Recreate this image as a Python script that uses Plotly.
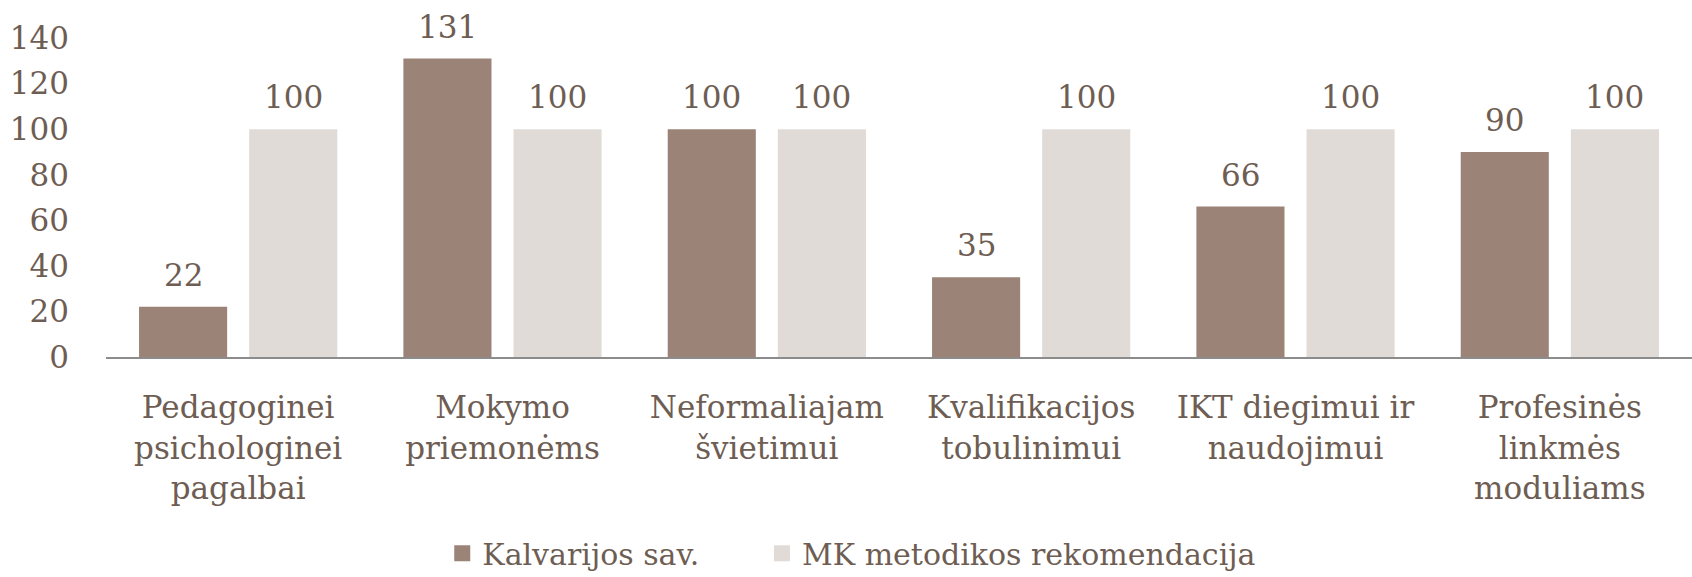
import plotly.graph_objects as go

categories = [
    "Pedagoginei<br>psichologinei<br>pagalbai",
    "Mokymo<br>priemonėms",
    "Neformaliajam<br>švietimui",
    "Kvalifikacijos<br>tobulinimui",
    "IKT diegimui ir<br>naudojimui",
    "Profesinės<br>linkmės<br>moduliams",
]
series_names = ["Kalvarijos sav.", "MK metodikos rekomendacija"]
kalvarijos = [22, 131, 100, 35, 66, 90]
mk = [100, 100, 100, 100, 100, 100]
y_ticks = [0, 20, 40, 60, 80, 100, 120, 140]

TEXT = "#6e5d53"
FONT = "DejaVu Serif"
FS = 31
COLORS = ["#9b8477", "#e0dbd7"]
LEGENDS = ["legend", "legend2"]

fig = go.Figure()
for name, vals, col in zip(series_names, [kalvarijos, mk], COLORS):
    fig.add_trace(go.Bar(
        x=categories, y=vals, name=name, showlegend=False,
        marker=dict(color=col, line=dict(width=0)),
        hoverinfo="x+y",
    ))
# legend entries with larger square swatches
for name, col, lg in zip(series_names, COLORS, LEGENDS):
    fig.add_trace(go.Scatter(
        x=[None], y=[None], mode="markers", name=name, legend=lg,
        marker=dict(symbol="square", size=18, color=col),
        showlegend=True,
    ))

# value labels above the bars (placed in data coordinates, shifted to each bar of the group)
annotations = []
for shift, vals in zip([-55, 55], [kalvarijos, mk]):
    for cat, v in zip(categories, vals):
        annotations.append(dict(
            x=cat, y=v, xref="x", yref="y", text=str(v), showarrow=False,
            xshift=shift, yshift=32, yanchor="middle", xanchor="center",
            font=dict(family=FONT, size=FS, color=TEXT),
        ))

legend_font = dict(family=FONT, size=30, color=TEXT)
fig.update_layout(
    width=1692, height=577,
    margin=dict(l=106, r=0, t=38, b=220, autoexpand=False),
    paper_bgcolor="white", plot_bgcolor="white",
    barmode="group", bargap=0.1667, bargroupgap=0.2,
    font=dict(family=FONT, size=FS, color=TEXT),
    showlegend=True,
    legend=dict(orientation="h", x=0.212, xanchor="left", y=-0.615, yanchor="middle",
                font=legend_font, bgcolor="rgba(0,0,0,0)"),
    legend2=dict(orientation="h", x=0.4136, xanchor="left", y=-0.615, yanchor="middle",
                 font=legend_font, bgcolor="rgba(0,0,0,0)"),
    annotations=annotations,
)
fig.update_xaxes(showline=True, linecolor="#8c8c8c", linewidth=2, ticks="",
                 showgrid=False, ticklabelstandoff=22, automargin=False,
                 tickfont=dict(family=FONT, size=FS, color=TEXT))
fig.update_yaxes(range=[0, 140], tickvals=y_ticks, showgrid=False, zeroline=False,
                 showline=False, ticks="", ticklabelstandoff=36, automargin=False,
                 tickfont=dict(family=FONT, size=FS, color=TEXT))

fig.write_html("out.html", config={"displayModeBar": False},
               post_script="document.body.style.margin='0';document.body.style.overflow='hidden';")
